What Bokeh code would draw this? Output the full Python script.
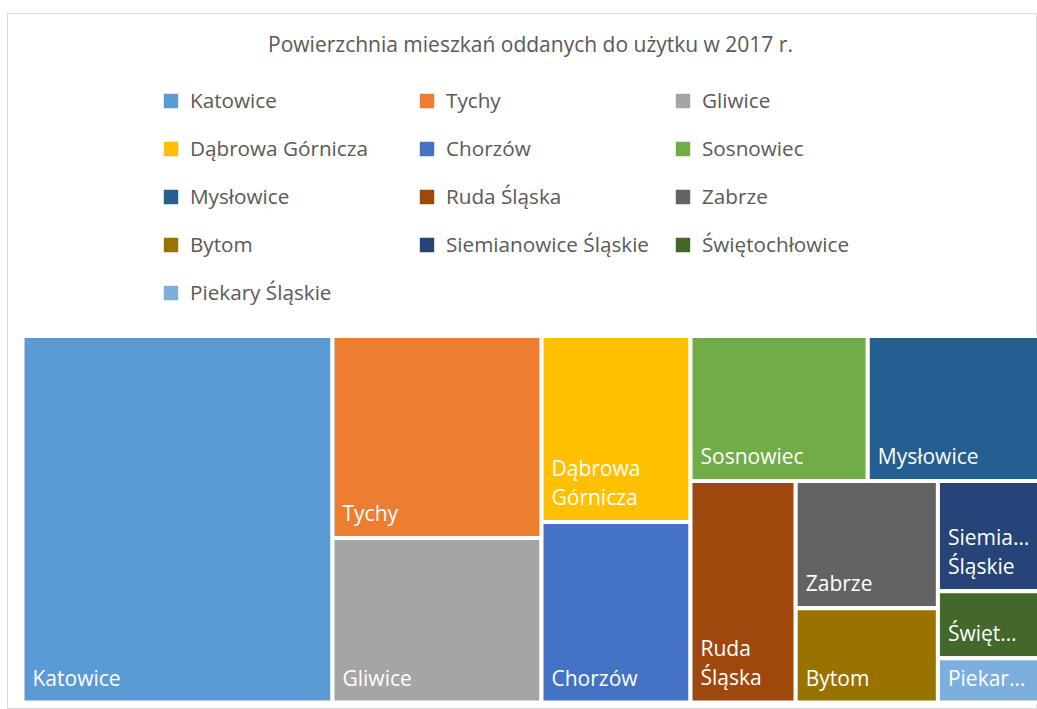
from bokeh.plotting import figure
from bokeh.models import Range1d, Legend, LegendItem, Label, ColumnDataSource
from bokeh.core.properties import value
from bokeh.embed import file_html
from bokeh.resources import INLINE

# ---- data (m2) ----
cities = ["Katowice", "Tychy", "Gliwice", "Dąbrowa Górnicza", "Chorzów", "Sosnowiec",
          "Mysłowice", "Ruda Śląska", "Zabrze", "Bytom", "Siemianowice Śląskie",
          "Świętochłowice", "Piekary Śląskie"]
area_m2 = [113600, 42200, 34400, 27700, 26900, 25700, 24900, 23300, 18100, 13400, 11200, 6800, 4500]
tile_labels = ["Katowice", "Tychy", "Gliwice", "Dąbrowa\nGórnicza", "Chorzów", "Sosnowiec",
               "Mysłowice", "Ruda\nŚląska", "Zabrze", "Bytom", "Siemia…\nŚląskie",
               "Święt…", "Piekar…"]
colors = ["#5B9BD5", "#ED7D31", "#A5A5A5", "#FFC000", "#4472C4", "#70AD47",
          "#255E91", "#9E480E", "#636363", "#997300", "#264478", "#43682B", "#7CAFDD"]
strip_sizes = [1, 2, 2, 2, 1, 2, 1, 1, 1]   # items per strip (Excel-like squarified rows)
title_text = "Powierzchnia mieszkań oddanych do użytku w 2017 r."

FONT = "Open Sans"
W, H = 1037, 709
LEFT, TOP = 7, 13
FW, FH = W - LEFT, H - TOP


def strip_layout(vals, x0, y0, w, h, groups):
    out = []
    i = 0
    rem = float(sum(vals))
    for g in groups:
        items = vals[i:i + g]
        s = float(sum(items))
        frac = s / rem
        if w >= h:
            sw = w * frac
            yy = y0
            for v in items:
                hh = h * v / s
                out.append((x0, x0 + sw, yy, yy + hh))
                yy += hh
            x0 += sw
            w -= sw
        else:
            sh = h * frac
            xx = x0
            for v in items:
                ww = w * v / s
                out.append((xx, xx + ww, y0, y0 + sh))
                xx += ww
            y0 += sh
            h -= sh
        rem -= s
        i += g
    return out


# treemap box inside the frame (frame units = pixels, y downward)
BX0, BX1, BY0, BY1 = 15, 1032, 322.5, 689
rects = strip_layout(area_m2, BX0, BY0, BX1 - BX0, BY1 - BY0, strip_sizes)

src = ColumnDataSource(dict(
    left=[r[0] for r in rects], right=[r[1] for r in rects],
    top=[r[2] for r in rects], bottom=[r[3] for r in rects],
    color=colors, city=cities, label=tile_labels, value=area_m2,
))

p = figure(width=W, height=H, output_backend="svg", toolbar_location=None,
           x_range=Range1d(0, FW), y_range=Range1d(FH, 0),
           x_axis_location=None, y_axis_location=None,
           min_border_left=LEFT, min_border_right=0, min_border_bottom=0, min_border_top=TOP)
p.grid.visible = False
p.outline_line_color = "#D9D9D9"
p.outline_line_width = 1
p.background_fill_color = "white"
p.border_fill_color = "white"

r = p.quad(left="left", right="right", top="top", bottom="bottom", source=src,
           fill_color="color", line_color="white", line_width=4)

p.text(x="left", y="bottom", text="label", source=src, x_offset=10, y_offset=-11,
       text_baseline="bottom", text_align="left", text_color="white",
       text_font=value(FONT), text_font_size="21px", text_line_height=1.05)

p.add_layout(Label(x=523, y=30, text=title_text, text_align="center", text_baseline="middle",
                   text_font=FONT, text_font_size="21px", text_color="#595959"))

items = [LegendItem(label=c, renderers=[r], index=i) for i, c in enumerate(cities)]
leg = Legend(items=items, location=(152, 403), orientation="horizontal", ncols=3,
             glyph_width=23, glyph_height=23, label_standoff=8, label_width=205,
             label_height=24, spacing=20, padding=0, margin=0,
             label_text_font=FONT, label_text_font_size="20.7px", label_text_color="#595959",
             background_fill_alpha=0, border_line_alpha=0)
p.add_layout(leg)

open("out.html", "w").write(file_html(p, INLINE))
